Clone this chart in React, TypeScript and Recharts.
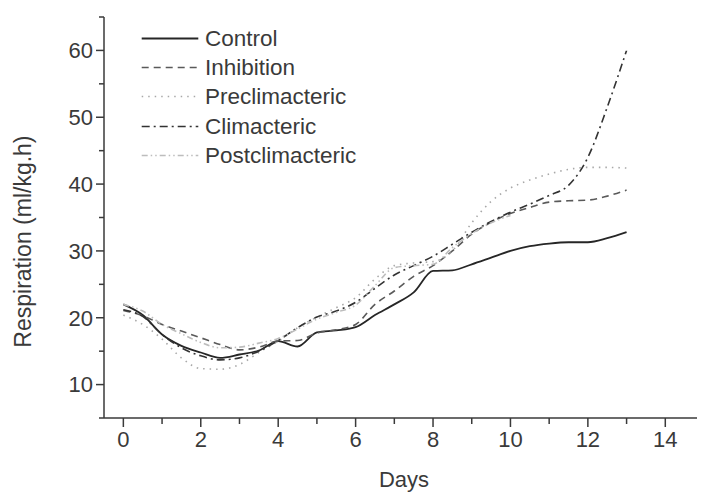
import React from "react"
import { LineChart, Line, XAxis, YAxis, Legend, Label } from "recharts"

const days = [0, 0.5, 1, 1.5, 2, 2.5, 3, 3.5, 4, 4.5, 5, 5.5, 6, 6.5, 7, 7.5, 8, 8.5, 9, 9.5, 10, 10.5, 11, 11.5, 12, 12.5, 13]

const control = [22.0, 20.4, 17.5, 15.8, 14.8, 14.0, 14.5, 15.1, 16.5, 15.7, 17.8, 18.1, 18.6, 20.4, 22.0, 23.8, 27.0, 27.1, 28.0, 29.0, 30.0, 30.7, 31.1, 31.3, 31.3, 31.9, 32.8]
const inhibition = [21.1, 20.3, 19.0, 18.0, 17.0, 16.0, 15.2, 15.6, 16.5, 16.6, 17.7, 18.2, 19.0, 22.0, 24.0, 26.2, 27.8, 30.0, 32.5, 34.3, 35.6, 36.5, 37.3, 37.5, 37.6, 38.2, 39.1]
const preclimacteric = [20.4, 19.0, 16.8, 14.0, 12.4, 12.3, 13.0, 14.8, 16.5, 18.5, 20.1, 21.5, 23.0, 25.8, 27.8, 28.2, 28.4, 30.0, 34.2, 37.4, 39.4, 40.6, 41.5, 42.2, 42.5, 42.5, 42.4]
const climacteric = [21.2, 20.2, 17.5, 15.5, 14.3, 13.7, 14.0, 15.0, 16.6, 18.5, 20.1, 21.0, 22.3, 24.4, 26.4, 27.8, 29.2, 31.0, 32.8, 34.4, 35.8, 37.0, 38.3, 39.8, 44.0, 51.5, 60.0]
const postclimacteric = [22.0, 21.0, 19.0, 17.6, 16.3, 15.5, 15.6, 16.2, 16.9, 18.3, 19.8, 20.8, 21.9, 24.8, 27.5, 27.8, 28.0, 30.5, 32.6, 34.2, 35.3]

const xTicks = [0, 1, 2, 3, 4, 5, 6, 7, 8, 9, 10, 11, 12, 13, 14, 15]
const yTicks = [5, 10, 15, 20, 25, 30, 35, 40, 45, 50, 55, 60, 65]

const data = days.map((d, i) => ({
  day: d,
  control: control[i],
  inhibition: inhibition[i],
  preclimacteric: preclimacteric[i],
  climacteric: climacteric[i],
  postclimacteric: i < postclimacteric.length ? postclimacteric[i] : null,
}))

const series = [
  { key: "control", name: "Control", color: "#262626", dash: undefined, width: 1.8 },
  { key: "inhibition", name: "Inhibition", color: "#5a5a5a", dash: "7 5", width: 1.6 },
  { key: "preclimacteric", name: "Preclimacteric", color: "#a8a8a8", dash: "1.5 5", width: 1.6 },
  { key: "climacteric", name: "Climacteric", color: "#333333", dash: "8 4 2 4", width: 1.6 },
  { key: "postclimacteric", name: "Postclimacteric", color: "#bdbdbd", dash: "6 3 1.5 3 1.5 3", width: 1.6 },
]

const FONT = "'Liberation Sans', Arial, sans-serif"
const INK = "#3a3a3a"

const XTick = (props: any) => {
  const { x, y, payload } = props
  const major = payload.value % 2 === 0
  return (
    <g>
      <line x1={x} x2={x} y1={y} y2={y + (major ? 9 : 6)} stroke={INK} strokeWidth={1.5} />
      {major && (
        <text x={x} y={y + 21} dy="0.355em" textAnchor="middle" fontSize={22} fill={INK} fontFamily={FONT}>
          {payload.value}
        </text>
      )}
    </g>
  )
}

const YTick = (props: any) => {
  const { x, y, payload } = props
  const major = payload.value % 10 === 0
  return (
    <g>
      <line x1={x} x2={x - (major ? 8 : 5)} y1={y} y2={y} stroke={INK} strokeWidth={1.5} />
      {major && (
        <text x={x - 11} y={y} dy="0.355em" textAnchor="end" fontSize={22} fill={INK} fontFamily={FONT}>
          {payload.value}
        </text>
      )}
    </g>
  )
}

const LegendBox = () => (
  <div style={{ fontFamily: FONT, color: INK }}>
    {series.map((s) => (
      <div key={s.key} style={{ display: "flex", alignItems: "center", height: 29.2 }}>
        <svg width={60} height={29} style={{ display: "block" }}>
          <line x1={1.7} x2={58.3} y1={14.5} y2={14.5} stroke={s.color} strokeWidth={s.width} strokeDasharray={s.dash} />
        </svg>
        <span style={{ marginLeft: 5, fontSize: 22.5, lineHeight: "29px", whiteSpace: "nowrap" }}>{s.name}</span>
      </div>
    ))}
  </div>
)

export default function App() {
  return (
    <div style={{ marginLeft: -8, marginTop: -8, width: 705, height: 494, background: "#fff" }}>
      <LineChart width={705} height={494} data={data} margin={{ top: 17, right: 1, left: 44, bottom: 26 }}>
        <XAxis
          dataKey="day"
          type="number"
          domain={[-0.5, 15]}
          ticks={xTicks}
          interval={0}
          tick={<XTick />}
          tickLine={false}
          tickSize={0}
          tickMargin={0}
          height={50}
          axisLine={{ stroke: INK, strokeWidth: 1.5 }}
          allowDataOverflow
        >
          <Label value="Days" position="bottom" offset={3} fontSize={22} fill={INK} fontFamily={FONT} />
        </XAxis>
        <YAxis
          type="number"
          domain={[5, 65]}
          ticks={yTicks}
          interval={0}
          tick={<YTick />}
          tickLine={false}
          tickSize={0}
          tickMargin={0}
          width={60}
          axisLine={{ stroke: INK, strokeWidth: 1.5 }}
          allowDataOverflow
        >
          <Label
            content={({ viewBox }: any) => {
              const cx = viewBox.x - 21
              const cy = viewBox.y + viewBox.height * 0.56
              return (
                <text
                  x={cx}
                  y={cy}
                  dy="0.355em"
                  textAnchor="middle"
                  fontSize={23}
                  fill={INK}
                  fontFamily={FONT}
                  transform={`rotate(-90 ${cx} ${cy})`}
                >
                  Respiration (ml/kg.h)
                </text>
              )
            }}
          />
        </YAxis>
        <Legend
          layout="vertical"
          align="center"
          verticalAlign="middle"
          content={<LegendBox />}
          wrapperStyle={{ left: 140, top: 24, width: 260, height: 150 }}
        />
        {series.map((s) => (
          <Line
            key={s.key}
            dataKey={s.key}
            name={s.name}
            type="monotone"
            stroke={s.color}
            strokeWidth={s.width}
            strokeDasharray={s.dash}
            dot={false}
            activeDot={false}
            connectNulls={false}
            isAnimationActive={false}
          />
        ))}
      </LineChart>
    </div>
  )
}
